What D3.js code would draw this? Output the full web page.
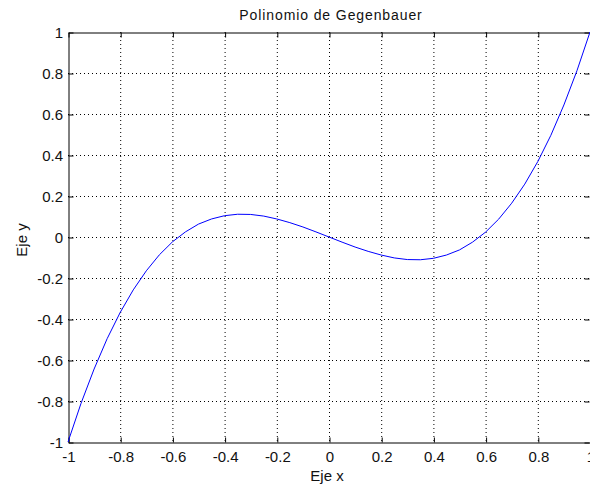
<!DOCTYPE html>
<html>
<head>
<meta charset="utf-8">
<script src="https://cdn.jsdelivr.net/npm/d3@7"></script>
<style>
  body { margin: 0; background: #fff; }
  text { font-family: "Liberation Sans", Arial, sans-serif; }
</style>
</head>
<body>
<svg id="canvas"></svg>
<script>
// values
const xs = [-1, -0.95, -0.9, -0.85, -0.8, -0.75, -0.7, -0.65, -0.6, -0.55, -0.5,
  -0.45, -0.4, -0.35, -0.3, -0.25, -0.2, -0.15, -0.1, -0.05, 0,
  0.05, 0.1, 0.15, 0.2, 0.25, 0.3, 0.35, 0.4, 0.45, 0.5,
  0.55, 0.6, 0.65, 0.7, 0.75, 0.8, 0.85, 0.9, 0.95, 1]
const ys = [-1, -0.811, -0.644, -0.496, -0.368, -0.258, -0.165, -0.087, -0.024, 0.025, 0.063,
  0.088, 0.104, 0.111, 0.110, 0.102, 0.088, 0.070, 0.049, 0.025, 0,
  -0.025, -0.049, -0.070, -0.088, -0.102, -0.110, -0.111, -0.104, -0.088, -0.063,
  -0.025, 0.024, 0.087, 0.165, 0.258, 0.368, 0.496, 0.644, 0.811, 1]
const xTicks = [-1, -0.8, -0.6, -0.4, -0.2, 0, 0.2, 0.4, 0.6, 0.8, 1]
const yTicks = [-1, -0.8, -0.6, -0.4, -0.2, 0, 0.2, 0.4, 0.6, 0.8, 1]

let width = 590
let height = 485
let padLeft = 68, padRight = 590, padTop = 32, padBottom = 442

const svg = d3.select('#canvas')
  .attr('width', width)
  .attr('height', height)

const x = d3.scaleLinear().domain([-1, 1]).range([padLeft, padRight])
const y = d3.scaleLinear().domain([-1, 1]).range([padBottom, padTop])

// grid
svg.append('g')
  .selectAll('line')
  .data(xTicks.slice(1, -1))
  .enter().append('line')
  .attr('x1', d => x(d) + 0.5).attr('x2', d => x(d) + 0.5)
  .attr('y1', padTop).attr('y2', padBottom)
  .attr('stroke', '#000').attr('stroke-dasharray', '1,3')

svg.append('g')
  .selectAll('line')
  .data(yTicks.slice(1, -1))
  .enter().append('line')
  .attr('y1', d => y(d) + 0.5).attr('y2', d => y(d) + 0.5)
  .attr('x1', padLeft).attr('x2', padRight)
  .attr('stroke', '#000').attr('stroke-dasharray', '1,3')

// axes
const tickFmt = d => String(d)

svg.append('g')
  .attr('transform', 'translate(0.5,' + (padBottom + 0.5) + ')')
  .call(d3.axisBottom(x).tickValues(xTicks).tickSizeInner(-5).tickSizeOuter(0).tickPadding(9).tickFormat(tickFmt))
svg.append('g')
  .attr('transform', 'translate(0.5,' + (padTop + 0.5) + ')')
  .call(d3.axisTop(x).tickValues(xTicks).tickSizeInner(-5).tickSizeOuter(0).tickFormat(''))
svg.append('g')
  .attr('transform', 'translate(' + (padLeft + 0.5) + ',0.5)')
  .call(d3.axisLeft(y).tickValues(yTicks).tickSizeInner(-5).tickSizeOuter(0).tickPadding(5.5).tickFormat(tickFmt))
svg.append('g')
  .attr('transform', 'translate(' + (padRight - 0.5) + ',0.5)')
  .call(d3.axisRight(y).tickValues(yTicks).tickSizeInner(-5).tickSizeOuter(0).tickFormat(''))
  .select('.domain').remove()

svg.selectAll('.domain').attr('stroke', '#000')
svg.selectAll('.tick line').attr('stroke', '#000')
svg.selectAll('.tick text').attr('font-size', 15).attr('fill', '#111')
  .style('font-family', '"Liberation Sans", Arial, sans-serif')

// curve
const points = xs.map((d, i) => [d, ys[i]])
svg.append('path')
  .datum(points)
  .attr('fill', 'none')
  .attr('stroke', '#0000ff')
  .attr('stroke-width', 1)
  .attr('d', d3.line().x(d => x(d[0])).y(d => y(d[1])))

// labels
svg.append('text')
  .attr('x', 331).attr('y', 20)
  .attr('text-anchor', 'middle').attr('font-size', 14).attr('letter-spacing', 0.9).attr('fill', '#111')
  .text('Polinomio de Gegenbauer')

svg.append('text')
  .attr('x', 327).attr('y', 481)
  .attr('text-anchor', 'middle').attr('font-size', 15).attr('fill', '#111')
  .text('Eje x')

svg.append('text')
  .attr('transform', 'translate(27,240) rotate(-90)')
  .attr('text-anchor', 'middle').attr('font-size', 15).attr('fill', '#111')
  .text('Eje y')
</script>
</body>
</html>
